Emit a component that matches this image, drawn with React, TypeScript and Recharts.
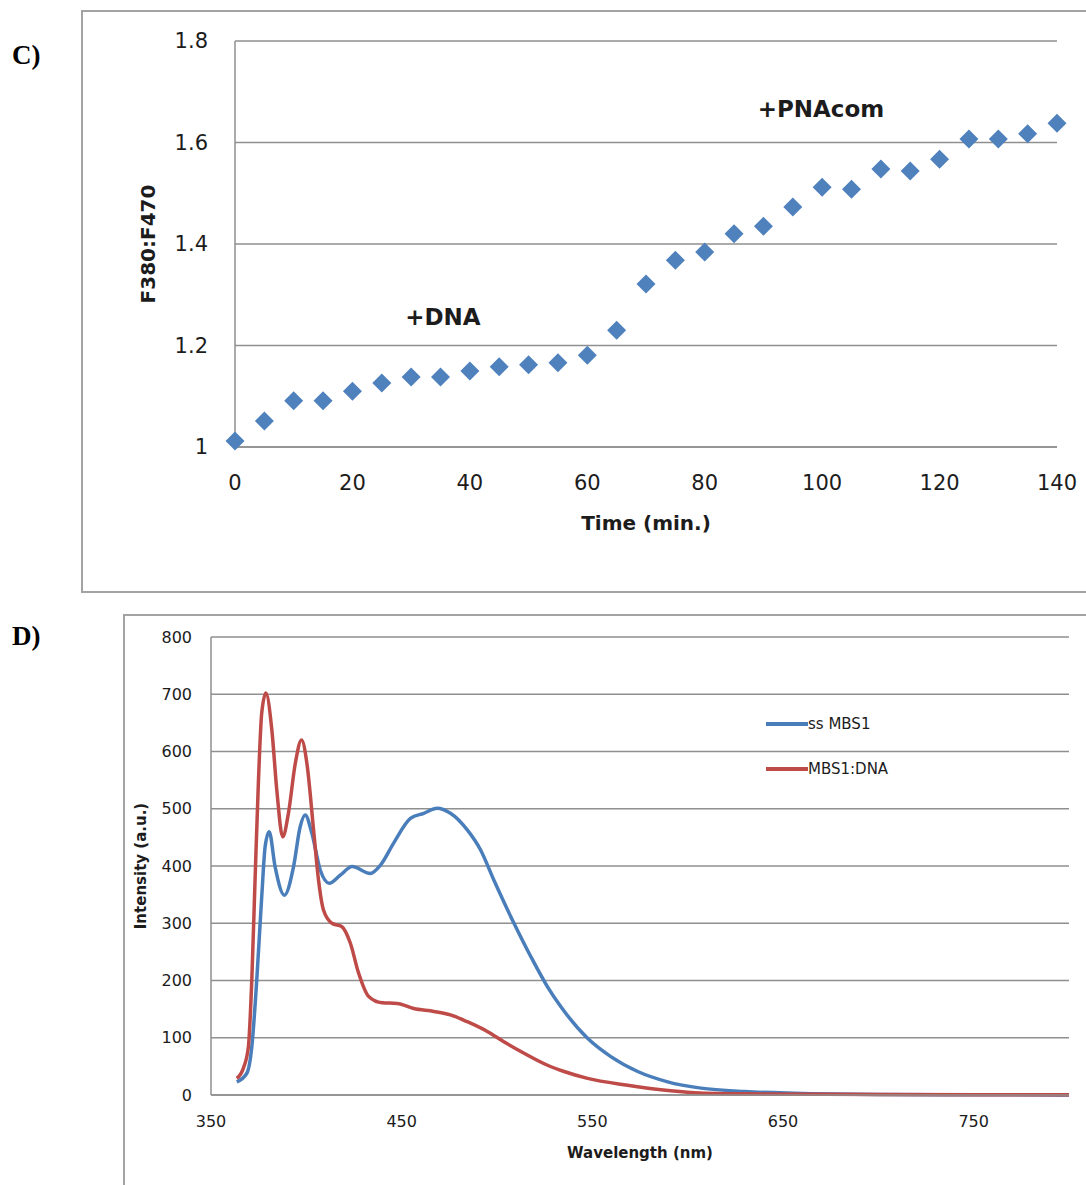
import React from "react";
import {
  ScatterChart,
  Scatter,
  LineChart,
  Line,
  XAxis,
  YAxis,
  CartesianGrid,
  ReferenceDot,
  Legend,
  Label,
} from "recharts";

// panel C: ratio vs time
const times = [0, 5, 10, 15, 20, 25, 30, 35, 40, 45, 50, 55, 60, 65, 70, 75, 80, 85, 90, 95, 100, 105, 110, 115, 120, 125, 130, 135, 140];
const ratios = [1.012, 1.051, 1.091, 1.091, 1.11, 1.126, 1.138, 1.138, 1.15, 1.158, 1.162, 1.166, 1.181, 1.23, 1.321, 1.368, 1.384, 1.42, 1.435, 1.473, 1.512, 1.508, 1.548, 1.544, 1.567, 1.607, 1.607, 1.617, 1.638];
const timeTicks = [0, 20, 40, 60, 80, 100, 120, 140];
const ratioTicks = [1, 1.2, 1.4, 1.6, 1.8];
const notes = [
  { t: 35.4, r: 1.256, text: "+DNA" },
  { t: 99.8, r: 1.666, text: "+PNAcom" },
];

// panel D: emission spectra
const seriesNames = ["ss MBS1", "MBS1:DNA"];
const ssWl = [363.5, 368.8, 371.4, 374, 376.6, 378.4, 380.5, 383.6, 388.5, 393.3, 396.8, 399.4, 402.9, 407.3, 412, 417.8, 424, 433.5, 439, 445.8, 454.6, 461.6, 468.6, 475.6, 484.4, 491.4, 498.4, 508.9, 517.7, 526.5, 534, 547.5, 559.7, 573.8, 589.5, 607, 630, 656, 700, 750, 800];
const ssInt = [23, 38, 84, 201, 346, 434, 460, 399, 349, 399, 469, 489, 457, 393, 370, 384, 399, 387, 402, 440, 483, 492, 501, 492, 463, 428, 375, 300, 242, 189, 152, 99, 67, 41, 23, 12, 6, 3, 1, 0.5, 0];
const dnaWl = [363.5, 367, 369.6, 371.4, 373.1, 374.9, 376.6, 378.8, 381.9, 384.5, 387.6, 390.6, 394.2, 397.5, 400.3, 403.8, 406.4, 409, 413.4, 418.7, 423.1, 427.4, 432.7, 439.7, 447.6, 456.3, 466.9, 475.6, 484.4, 494.9, 503.6, 514.2, 526.5, 535.2, 547.5, 568.5, 586, 603.5, 630, 700, 800];
const dnaInt = [29, 47, 84, 201, 375, 550, 667, 702, 638, 533, 451, 492, 579, 620, 579, 463, 375, 323, 300, 294, 265, 213, 172, 161, 160, 151, 146, 140, 128, 111, 93, 73, 52, 41, 29, 17, 9, 4, 2, 1, 0.5];
const wlTicks = [350, 450, 550, 650, 750];
const intTicks = [0, 100, 200, 300, 400, 500, 600, 700, 800];

const GRID = "#8f8f8f";
const INK = "#1c1c1c";
const BLUE = "#4A7EBB";
const RED = "#BE4B48";

const scatterData = times.map((t, i) => ({ t, r: ratios[i] }));
const ssData = ssWl.map((nm, i) => ({ nm, v: ssInt[i] }));
const dnaData = dnaWl.map((nm, i) => ({ nm, v: dnaInt[i] }));

const Diamond = (props: any) => {
  const { cx, cy } = props;
  const r = 9.5;
  return (
    <polygon
      points={`${cx},${cy - r} ${cx + r},${cy} ${cx},${cy + r} ${cx - r},${cy}`}
      fill="#4F81BD"
    />
  );
};

const SpectraLegend = (props: any) => {
  // keep the series order, the default legend sorts by name
  const items = [...(props.payload || [])].sort(
    (a: any, b: any) => seriesNames.indexOf(a.value) - seriesNames.indexOf(b.value)
  );
  return (
    <div>
      {items.map((p: any) => (
        <div key={p.value} style={{ height: 45, display: "flex", alignItems: "center", fontSize: 15, color: INK }}>
          <svg width={42} height={6}>
            <line x1={0} y1={3} x2={42} y2={3} stroke={p.color} strokeWidth={4} />
          </svg>
          <span>{p.value}</span>
        </div>
      ))}
    </div>
  );
};

const panelLabel: React.CSSProperties = {
  position: "absolute",
  left: 12,
  fontFamily: "'Liberation Serif', serif",
  fontWeight: "bold",
  fontSize: 27,
  lineHeight: "30px",
};

export default function App() {
  return (
    <div
      style={{
        position: "absolute",
        left: 0,
        top: 0,
        width: 1086,
        height: 1185,
        overflow: "hidden",
        background: "#fff",
        fontFamily: "'DejaVu Sans', sans-serif",
      }}
    >
      <div style={{ position: "absolute", left: 81, top: 10, width: 1030, height: 583, border: "2px solid #a3a3a3", boxSizing: "border-box" }} />
      <div style={{ position: "absolute", left: 123, top: 614, width: 1000, height: 620, border: "2px solid #a3a3a3", boxSizing: "border-box" }} />
      <div style={{ ...panelLabel, top: 40 }}>C)</div>
      <div style={{ ...panelLabel, top: 621 }}>D)</div>

      <div style={{ position: "absolute", left: 0, top: 0 }}>
        <ScatterChart width={1086} height={600} margin={{ top: 41, right: 29, bottom: 53, left: 130 }}>
          <CartesianGrid vertical={false} stroke={GRID} strokeWidth={1.5} />
          <XAxis
            type="number"
            dataKey="t"
            domain={[0, 140]}
            ticks={timeTicks}
            tickLine={false}
            tickSize={0}
            tickMargin={28}
            height={100}
            axisLine={{ stroke: GRID, strokeWidth: 1.5 }}
            tick={{ fill: INK, fontSize: 21 }}
          >
            <Label value="Time (min.)" position="insideBottom" offset={17} fontSize={20} fontWeight="bold" fill={INK} />
          </XAxis>
          <YAxis
            type="number"
            dataKey="r"
            domain={[1, 1.8]}
            ticks={ratioTicks}
            width={105}
            tickLine={false}
            tickSize={0}
            tickMargin={27}
            axisLine={{ stroke: GRID, strokeWidth: 1.5 }}
            tick={{ fill: INK, fontSize: 21 }}
          >
            <Label value="F380:F470" angle={-90} position="insideLeft" offset={18} fontSize={20} fontWeight="bold" fill={INK} textAnchor="middle" />
          </YAxis>
          <Scatter data={scatterData} shape={<Diamond />} isAnimationActive={false} />
          {notes.map((n) => (
            <ReferenceDot
              key={n.text}
              x={n.t}
              y={n.r}
              r={0}
              fill="none"
              stroke="none"
              label={{ value: n.text, position: "center", fontSize: 23, fontWeight: "bold", fill: INK }}
            />
          ))}
        </ScatterChart>
      </div>

      <div style={{ position: "absolute", left: 0, top: 600 }}>
        <LineChart width={1086} height={585} margin={{ top: 37, right: 17, bottom: 20, left: 125 }}>
          <CartesianGrid vertical={false} stroke={GRID} strokeWidth={1.5} />
          <XAxis
            type="number"
            dataKey="nm"
            domain={[350, 800]}
            ticks={wlTicks}
            tickLine={false}
            tickSize={0}
            tickMargin={21}
            height={70}
            axisLine={{ stroke: GRID, strokeWidth: 1.5 }}
            tick={{ fill: INK, fontSize: 16 }}
          >
            <Label value="Wavelength (nm)" position="insideBottom" offset={7} fontSize={15} fontWeight="bold" fill={INK} />
          </XAxis>
          <YAxis
            type="number"
            domain={[0, 800]}
            ticks={intTicks}
            width={86}
            tickLine={false}
            tickSize={0}
            tickMargin={19}
            axisLine={{ stroke: GRID, strokeWidth: 1.5 }}
            tick={{ fill: INK, fontSize: 16 }}
          >
            <Label value="Intensity (a.u.)" angle={-90} position="insideLeft" offset={16} fontSize={15} fontWeight="bold" fill={INK} textAnchor="middle" />
          </YAxis>
          <Legend
            layout="vertical"
            verticalAlign="middle"
            align="center"
            content={<SpectraLegend />}
            wrapperStyle={{ left: 766, top: 101, width: 200 }}
          />
          <Line data={ssData} dataKey="v" name="ss MBS1" type="monotone" stroke={BLUE} strokeWidth={3.5} dot={false} activeDot={false} isAnimationActive={false} />
          <Line data={dnaData} dataKey="v" name="MBS1:DNA" type="monotone" stroke={RED} strokeWidth={3.5} dot={false} activeDot={false} isAnimationActive={false} />
        </LineChart>
      </div>
    </div>
  );
}
